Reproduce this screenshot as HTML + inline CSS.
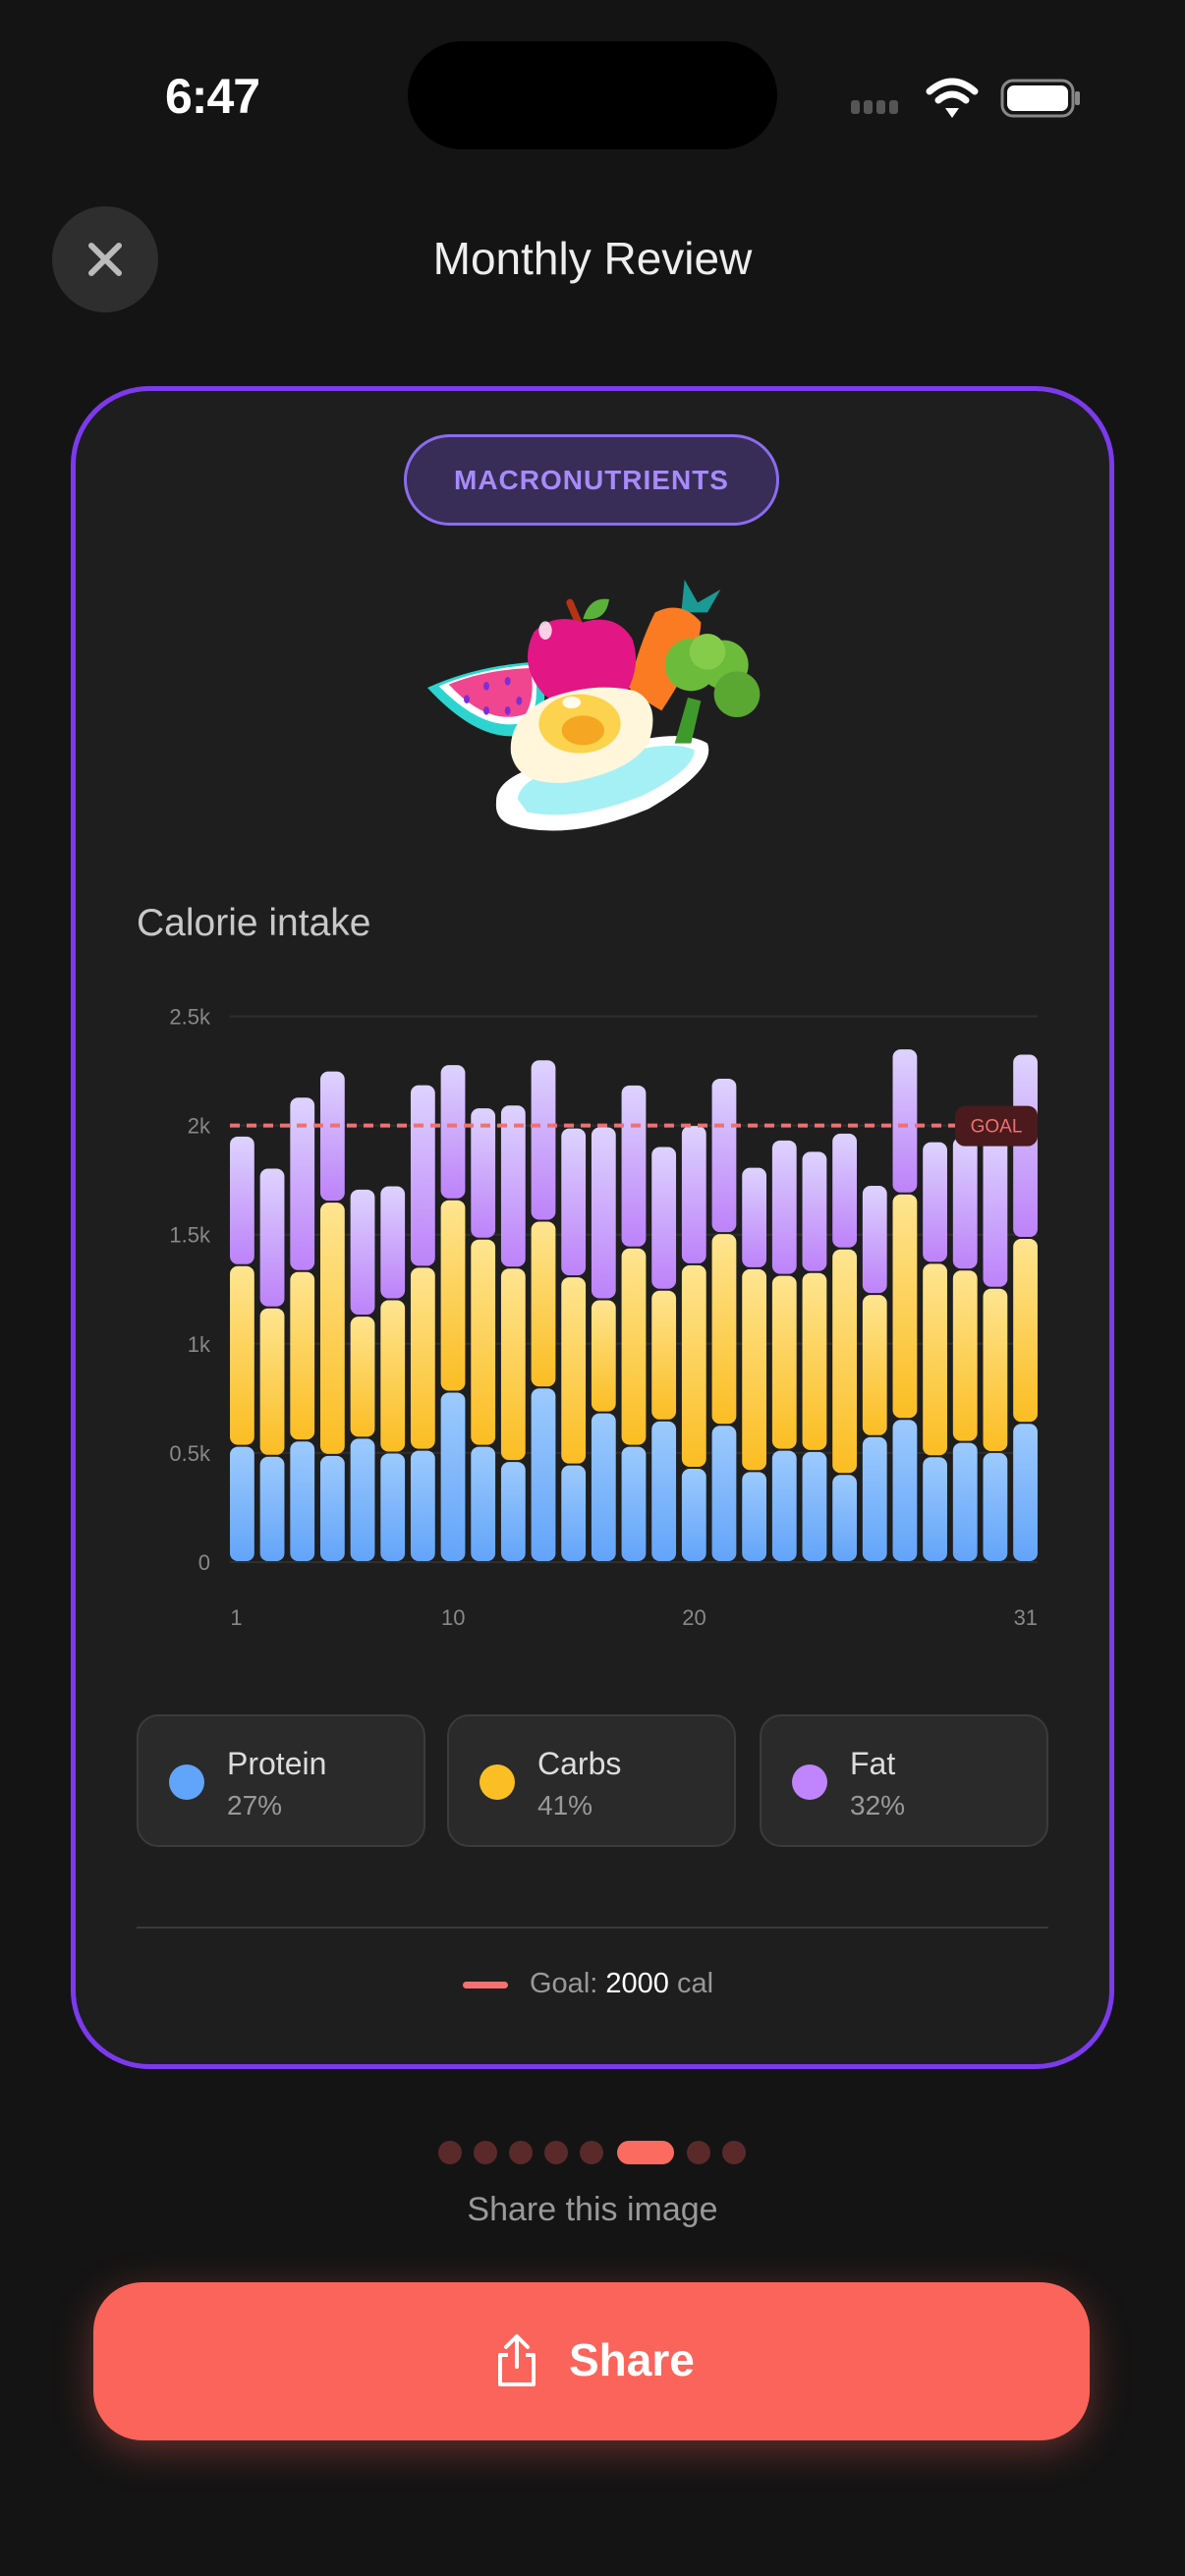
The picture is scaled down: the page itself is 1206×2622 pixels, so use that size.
<!DOCTYPE html>
<html><head><meta charset="utf-8">
<style>
*{margin:0;padding:0;box-sizing:border-box}
body{width:1206px;height:2622px;background:#141414;position:relative;overflow:hidden;font-family:"Liberation Sans",sans-serif}
.abs{position:absolute}
.txt{white-space:nowrap}
</style></head><body>
<div class="abs txt" style="left:168px;top:69px;font-size:50px;font-weight:bold;color:#fff;letter-spacing:-1px">6:47</div>
<div class="abs" style="left:415px;top:42px;width:376px;height:110px;border-radius:55px;background:#000"></div>
<svg class="abs" style="left:860px;top:70px" width="260" height="60">
<g fill="#555"><rect x="6" y="32" width="9" height="14" rx="3"/><rect x="19" y="32" width="9" height="14" rx="3"/><rect x="32" y="32" width="9" height="14" rx="3"/><rect x="45" y="32" width="9" height="14" rx="3"/></g>
<g fill="none" stroke="#fff" stroke-width="7" stroke-linecap="round"><path d="M86 23 Q109 3 132 23"/><path d="M95 32 Q109 20 123 32"/></g><path d="M102 40 L109 50 L116 40 Z" fill="#fff"/>
<rect x="160" y="12" width="72" height="36" rx="11" fill="none" stroke="#888" stroke-width="3"/><rect x="165" y="17" width="62" height="26" rx="7" fill="#fff"/><rect x="234" y="23" width="5" height="14" rx="2" fill="#888"/>
</svg>
<div class="abs" style="left:53px;top:210px;width:108px;height:108px;border-radius:54px;background:#2e2e2e">
<svg width="108" height="108"><path d="M40 40 L68 68 M68 40 L40 68" stroke="#bbb" stroke-width="6" stroke-linecap="round"/></svg></div>
<div class="abs txt" style="left:0;width:1206px;text-align:center;top:236px;font-size:46px;color:#eee">Monthly Review</div>

<div class="abs" style="left:72px;top:393px;width:1062px;height:1713px;border:5px solid #7c3aed;border-radius:80px;background:#1e1e1e"></div>
<div class="abs txt" style="left:411px;top:442px;width:382px;height:93px;border-radius:47px;background:#372d56;border:3px solid #8b6cf0;color:#a78bfa;font-weight:bold;font-size:28px;text-align:center;line-height:87px;letter-spacing:1px">MACRONUTRIENTS</div>

<svg class="abs" style="left:420px;top:570px" width="370" height="300" viewBox="0 0 1110 900">
<path d="M45 390 Q200 320 390 310 Q420 430 380 520 Q230 590 45 390Z" fill="#2dd4cf"/>
<path d="M80 385 Q210 330 370 320 Q390 420 360 490 Q230 540 80 385Z" fill="#fff"/>
<path d="M110 380 Q220 335 360 330 Q375 420 345 470 Q230 510 110 380Z" fill="#f0468f"/>
<g fill="#7c2fd6"><ellipse cx="165" cy="425" rx="9" ry="13"/><ellipse cx="225" cy="385" rx="9" ry="13"/><ellipse cx="290" cy="370" rx="9" ry="13"/><ellipse cx="225" cy="460" rx="9" ry="13"/><ellipse cx="290" cy="460" rx="9" ry="13"/><ellipse cx="325" cy="430" rx="9" ry="13"/></g>
<path d="M830 60 L870 130 L940 90 L900 160 L820 160 Z" fill="#1a9a94"/>
<path d="M740 160 Q820 120 880 190 Q880 280 760 460 Q690 420 660 390 Q690 260 740 160Z" fill="#fb7b22"/>
<path d="M480 130 L510 200" stroke="#b53413" stroke-width="22" stroke-linecap="round"/>
<path d="M520 180 Q540 110 600 120 Q590 190 520 180Z" fill="#5bb23a"/>
<path d="M520 190 Q430 160 370 220 Q320 320 400 410 Q470 470 530 430 Q600 470 650 410 Q700 320 670 240 Q620 160 520 190Z" fill="#e21684"/>
<ellipse cx="405" cy="215" rx="20" ry="28" fill="#fff" opacity=".8"/>
<path d="M255 740 Q250 640 520 600 Q800 500 900 560 Q930 640 720 760 Q480 860 300 810 Q250 790 255 740Z" fill="#fff"/>
<path d="M320 730 Q330 650 540 620 Q780 540 860 580 Q860 640 700 720 Q500 800 350 770Z" fill="#a5f0f5"/>
<path d="M300 590 Q290 480 420 420 Q560 370 680 400 Q760 440 720 560 Q660 650 470 680 Q320 690 300 590Z" fill="#fff6dc"/>
<ellipse cx="510" cy="500" rx="125" ry="90" fill="#fcd34d"/>
<ellipse cx="520" cy="520" rx="65" ry="45" fill="#f5a623"/>
<ellipse cx="485" cy="435" rx="28" ry="18" fill="#fff" opacity=".9"/>
<path d="M800 560 L840 420 L880 430 L850 560Z" fill="#3f9a2c"/>
<circle cx="850" cy="320" r="80" fill="#6dbb3a"/><circle cx="950" cy="320" r="75" fill="#6dbb3a"/><circle cx="990" cy="410" r="70" fill="#5aa832"/><circle cx="900" cy="280" r="55" fill="#84cc4a"/>
</svg>

<div class="abs txt" style="left:139px;top:918px;font-size:39px;color:#c8c8c8">Calorie intake</div>

<svg id="chart" class="abs" style="left:0;top:0" width="1206" height="1700"></svg>

<div class="abs" style="left:139px;top:1745px;width:294px;height:135px;border-radius:22px;background:#2a2a2a;border:2px solid #3b3b3b">
<div class="abs" style="left:31px;top:49px;width:36px;height:36px;border-radius:18px;background:#60a5fa"></div>
<div class="abs txt" style="left:90px;top:30px;font-size:32px;color:#ddd">Protein</div>
<div class="abs txt" style="left:90px;top:75px;font-size:28px;color:#999">27%</div></div>
<div class="abs" style="left:455px;top:1745px;width:294px;height:135px;border-radius:22px;background:#2a2a2a;border:2px solid #3b3b3b">
<div class="abs" style="left:31px;top:49px;width:36px;height:36px;border-radius:18px;background:#fbbf24"></div>
<div class="abs txt" style="left:90px;top:30px;font-size:32px;color:#ddd">Carbs</div>
<div class="abs txt" style="left:90px;top:75px;font-size:28px;color:#999">41%</div></div>
<div class="abs" style="left:773px;top:1745px;width:294px;height:135px;border-radius:22px;background:#2a2a2a;border:2px solid #3b3b3b">
<div class="abs" style="left:31px;top:49px;width:36px;height:36px;border-radius:18px;background:#c084fc"></div>
<div class="abs txt" style="left:90px;top:30px;font-size:32px;color:#ddd">Fat</div>
<div class="abs txt" style="left:90px;top:75px;font-size:28px;color:#999">32%</div></div>

<div class="abs" style="left:139px;top:1961px;width:928px;height:2px;background:#3a3a3a"></div>
<div class="abs" style="left:471px;top:2017px;width:46px;height:7px;border-radius:4px;background:#f87171"></div>
<div class="abs txt" style="left:539px;top:2003px;font-size:29px;color:#999">Goal: <span style="color:#fff">2000</span> cal</div>

<div class="abs" style="left:0;top:2179px;width:1206px;height:24px">
<div class="abs" style="left:446px;width:24px;height:24px;border-radius:12px;background:#5a2a2a"></div>
<div class="abs" style="left:482px;width:24px;height:24px;border-radius:12px;background:#5a2a2a"></div>
<div class="abs" style="left:518px;width:24px;height:24px;border-radius:12px;background:#5a2a2a"></div>
<div class="abs" style="left:554px;width:24px;height:24px;border-radius:12px;background:#5a2a2a"></div>
<div class="abs" style="left:590px;width:24px;height:24px;border-radius:12px;background:#5a2a2a"></div>
<div class="abs" style="left:628px;width:58px;height:24px;border-radius:12px;background:#fb6b60"></div>
<div class="abs" style="left:699px;width:24px;height:24px;border-radius:12px;background:#5a2a2a"></div>
<div class="abs" style="left:735px;width:24px;height:24px;border-radius:12px;background:#5a2a2a"></div>
</div>
<div class="abs txt" style="left:0;width:1206px;text-align:center;top:2230px;font-size:34px;color:#999">Share this image</div>
<div class="abs" style="left:95px;top:2323px;width:1014px;height:161px;border-radius:50px;background:#fa645a;box-shadow:0 10px 40px rgba(250,100,90,.35)">
<svg class="abs" style="left:408px;top:52px" width="46" height="56"><path d="M23 4 V34 M12 14 L23 3 L34 14" stroke="#fff" stroke-width="4" fill="none" stroke-linecap="round" stroke-linejoin="round"/><path d="M14 22 H6 V52 H40 V22 H32" stroke="#fff" stroke-width="4" fill="none" stroke-linejoin="round"/></svg>
<div class="abs txt" style="left:484px;top:52px;font-size:46px;font-weight:bold;color:#fff">Share</div></div>

<script>
const days=[1,2,3,4,5,7,8,10,11,12,13,14,16,17,18,20,21,22,23,24,25,26,27,28,29,30,31];
const protein=[533,487,557,491,570,502,515,781,533,463,800,447,686,533,649,432,629,417,515,509,404,577,656,485,551,504,638];
const carbs=[827,680,776,1160,559,702,838,881,949,886,764,862,518,908,599,932,878,929,801,820,1033,651,1033,886,789,753,847];
const fat=[594,640,799,601,582,522,836,619,601,747,739,682,792,747,658,638,712,465,620,555,530,500,664,557,610,700,844];
const yTicks=[0,500,1000,1500,2000,2500];
const yTickLabels=["0","0.5k","1k","1.5k","2k","2.5k"];
const xTickDays=[1,10,20,31];
const goal=[2000];

const NS="http://www.w3.org/2000/svg";
const svg=document.getElementById('chart');
const x0=234,x1=1056,yBase=1590,yTop=1034.5,yMax=2500;
const n=days.length,step=(x1-x0)/(n-0.19),bw=24.8;
function xs(i){return x0+i*step;}
function ys(v){return yBase-(v/yMax)*(yBase-yTop);}
function el(t,a){const e=document.createElementNS(NS,t);for(const k in a)e.setAttribute(k,a[k]);svg.appendChild(e);return e;}
const defs=el('defs',{});
[['gp','#9ccafd','#63a4f9'],['gc','#fee590','#fbbd22'],['gf','#ddd3fe','#bd82f9']].forEach(g=>{
 const lg=document.createElementNS(NS,'linearGradient');lg.setAttribute('id',g[0]);lg.setAttribute('x1','0');lg.setAttribute('y1','0');lg.setAttribute('x2','0');lg.setAttribute('y2','1');
 const s1=document.createElementNS(NS,'stop');s1.setAttribute('offset','0');s1.setAttribute('stop-color',g[1]);
 const s2=document.createElementNS(NS,'stop');s2.setAttribute('offset','1');s2.setAttribute('stop-color',g[2]);
 lg.appendChild(s1);lg.appendChild(s2);defs.appendChild(lg);});
yTicks.forEach((t,i)=>{
 const l=el('line',{x1:x0,x2:x1,y1:ys(t),y2:ys(t),stroke:'#2e2e2e','stroke-width':2});
 
 
 const tx=el('text',{x:214,y:ys(t)+8,'text-anchor':'end','font-size':22,fill:'#888','font-family':'Liberation Sans, sans-serif'});
 tx.textContent=yTickLabels[i];
 
 
});
days.forEach((d,i)=>{
 const segs=[[0,protein[i],'gp'],[protein[i],protein[i]+carbs[i],'gc'],[protein[i]+carbs[i],protein[i]+carbs[i]+fat[i],'gf']];
 const names=['protein','carbs','fat'];
 segs.forEach((s,j)=>{
  const top=ys(s[1]),bot=ys(s[0]);
  const r=el('rect',{x:xs(i),y:top+1,width:bw,height:Math.max(0,bot-top-2),rx:8,fill:'url(#'+s[2]+')'});
  
  
 });
 if(xTickDays.indexOf(d)>=0){
  const tx=el('text',{x:xs(i)+bw/2-12,y:1654,'font-size':22,fill:'#888','font-family':'Liberation Sans, sans-serif'});
  tx.textContent=String(d);
  
  
 }
});
const gl=el('line',{x1:x0,x2:972,y1:ys(goal[0]),y2:ys(goal[0]),stroke:'#f07070','stroke-width':4,'stroke-dasharray':'10 7'});


const gb=el('rect',{x:972,y:ys(goal[0])-20,width:84,height:41,rx:10,fill:'#4a1a1c'});


const gt=el('text',{x:1014,y:ys(goal[0])+7,'text-anchor':'middle','font-size':19,fill:'#f07070','font-family':'Liberation Sans, sans-serif'});
gt.textContent='GOAL';


</script>
</body></html>
